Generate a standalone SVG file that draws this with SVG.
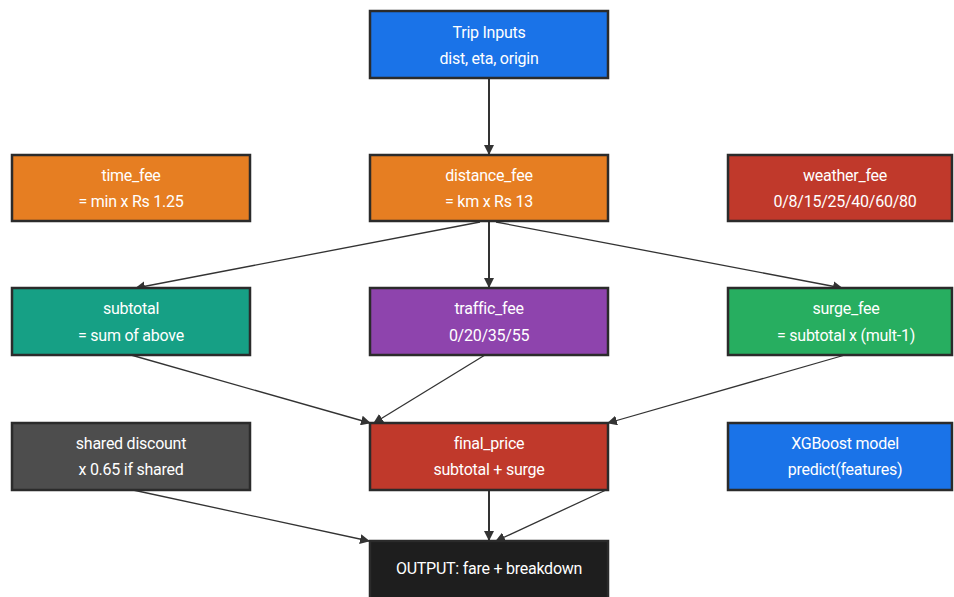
<svg xmlns="http://www.w3.org/2000/svg" width="954" height="597" viewBox="0 0 954 597">
<defs>
<marker id="ah" markerWidth="10" markerHeight="10" refX="9" refY="5" orient="auto" markerUnits="userSpaceOnUse">
<path d="M0,0 L10,5 L0,10 Z" fill="#333"/>
</marker>
<style>
.box{stroke:#2b2b2b;stroke-width:2.5}
.t{font-family:Roboto,"Liberation Sans",sans-serif;font-size:16px;fill:#fff;text-anchor:middle;letter-spacing:-0.25px}
.e{stroke:#333;fill:none;marker-end:url(#ah)}
.v{stroke-width:2}
.d{stroke-width:1.3}
</style>
</defs>
<rect width="954" height="597" fill="#fff"/>
<g id="connectors">
<path class="e v" d="M489,78 L489,154"/>
<path class="e d" d="M480,222 L136,288"/>
<path class="e v" d="M489,222 L489,287"/>
<path class="e d" d="M496,222 L842,288"/>
<path class="e d" d="M131,355 L370,423"/>
<path class="e d" d="M485,355 L374,423"/>
<path class="e d" d="M845,355 L608,423"/>
<path class="e d" d="M133,490 L369,541"/>
<path class="e v" d="M489,490 L489,540"/>
<path class="e d" d="M606,490 L496,541"/>
</g>
<g id="trip_inputs"><rect class="box" x="370" y="11" width="238" height="67" fill="#1a73e8"/><text class="t" x="489" y="38">Trip Inputs</text><text class="t" x="489" y="64">dist, eta, origin</text></g>
<g id="time_fee"><rect class="box" x="12" y="155" width="238" height="66" fill="#e67e22"/><text class="t" x="131" y="181">time_fee</text><text class="t" x="131" y="207">= min x Rs 1.25</text></g>
<g id="distance_fee"><rect class="box" x="370" y="155" width="238" height="66" fill="#e67e22"/><text class="t" x="489" y="181">distance_fee</text><text class="t" x="489" y="207">= km x Rs 13</text></g>
<g id="weather_fee"><rect class="box" x="728" y="155" width="224" height="66" fill="#c0392b"/><text class="t" x="845" y="181">weather_fee</text><text class="t" x="845" y="207">0/8/15/25/40/60/80</text></g>
<g id="subtotal"><rect class="box" x="12" y="288" width="238" height="67" fill="#16a085"/><text class="t" x="131" y="314">subtotal</text><text class="t" x="131" y="341">= sum of above</text></g>
<g id="traffic_fee"><rect class="box" x="370" y="288" width="238" height="67" fill="#8e44ad"/><text class="t" x="489" y="314">traffic_fee</text><text class="t" x="489" y="341">0/20/35/55</text></g>
<g id="surge_fee"><rect class="box" x="728" y="288" width="224" height="67" fill="#27ae60"/><text class="t" x="846" y="314">surge_fee</text><text class="t" x="846" y="341">= subtotal x (mult-1)</text></g>
<g id="shared_discount"><rect class="box" x="12" y="423" width="238" height="67" fill="#4d4d4d"/><text class="t" x="131" y="449">shared discount</text><text class="t" x="131" y="475">x 0.65 if shared</text></g>
<g id="final_price"><rect class="box" x="370" y="423" width="238" height="67" fill="#c0392b"/><text class="t" x="489" y="449">final_price</text><text class="t" x="489" y="475">subtotal + surge</text></g>
<g id="xgboost"><rect class="box" x="728" y="423" width="224" height="67" fill="#1a73e8"/><text class="t" x="845" y="449">XGBoost model</text><text class="t" x="845" y="475">predict(features)</text></g>
<g id="output"><rect class="box" x="370" y="541" width="238" height="70" fill="#1e1e1e"/><text class="t" x="489" y="574">OUTPUT: fare + breakdown</text></g>
</svg>
